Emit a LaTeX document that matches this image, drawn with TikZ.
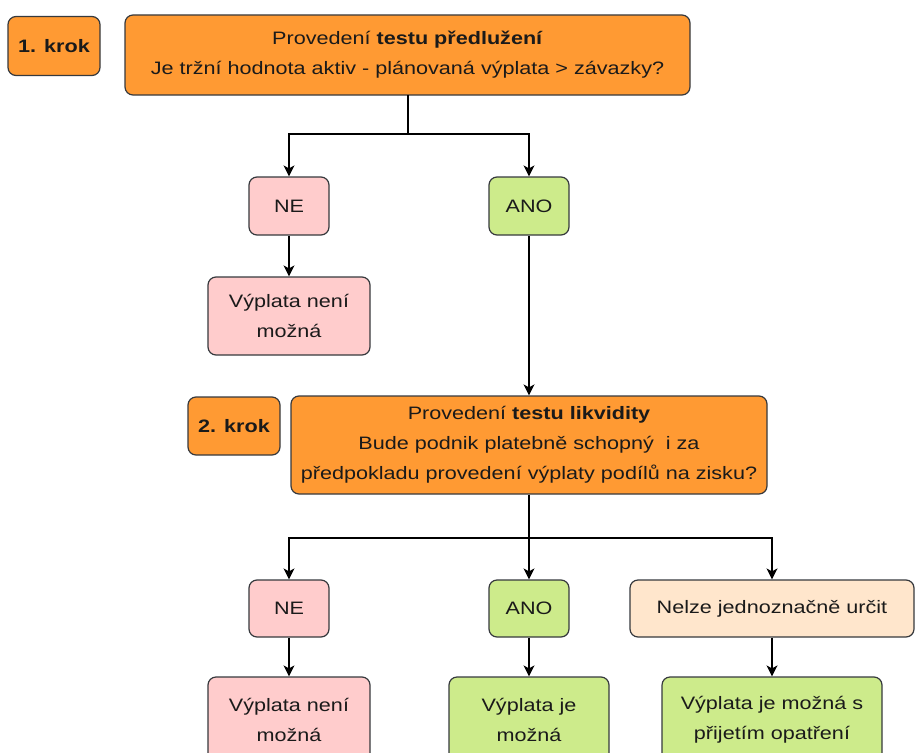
\documentclass[tikz,border=0pt]{standalone}
\usepackage{fontspec}
\setmainfont{Liberation Sans}[FakeStretch=1.2]
\usetikzlibrary{arrows.meta}
\definecolor{orangefill}{HTML}{FF9A33}
\definecolor{pinkfill}{HTML}{FFCCCC}
\definecolor{greenfill}{HTML}{CDEB8B}
\definecolor{peachfill}{HTML}{FFE6CC}
\definecolor{edgegray}{HTML}{36393D}
\definecolor{txt}{HTML}{1A1A1A}
\tikzset{
  box/.style={draw=edgegray, line width=1.2pt, rounded corners=8pt, align=center,
    inner sep=2pt, text=txt, font=\fontsize{18}{30}\selectfont},
  orangebox/.style={box, fill=orangefill},
  pinkbox/.style={box, fill=pinkfill},
  greenbox/.style={box, fill=greenfill},
  peachbox/.style={box, fill=peachfill},
  conn/.style={draw=black, line width=1.3pt, -{Stealth[length=11pt,width=11pt,inset=3pt]}},
  plain/.style={draw=black, line width=1.3pt},
}
\begin{document}
\begin{tikzpicture}[x=1pt,y=-1pt]
\useasboundingbox (0,0) rectangle (915,752);
\clip (0,0) rectangle (915,752);
% step labels
\node[orangebox, minimum width=92pt, minimum height=59pt] (k1) at (54,46) {\textbf{1. krok}};
\node[orangebox, minimum width=92pt, minimum height=58pt] (k2) at (234,426) {\textbf{2. krok}};
% main boxes
\node[orangebox, minimum width=565pt, minimum height=80pt] (m1) at (407.5,55)
  {\raisebox{-3pt}{Provedení \textbf{testu předlužení}}\\\raisebox{-3pt}{Je tržní hodnota aktiv - plánovaná výplata > závazky?}};
\node[orangebox, minimum width=476pt, minimum height=98pt] (m2) at (529,445)
  {Provedení \textbf{testu likvidity}\\Bude podnik platebně schopný\ \ i za\\předpokladu provedení výplaty podílů na zisku?};
% first level
\node[pinkbox, minimum width=80pt, minimum height=58pt] (ne1) at (289,206) {NE};
\node[greenbox, minimum width=80pt, minimum height=58pt] (ano1) at (529,206) {ANO};
\node[pinkbox, minimum width=162pt, minimum height=78pt] (o1) at (289,316) {Výplata není\\možná};
% second level
\node[pinkbox, minimum width=80pt, minimum height=57pt] (ne2) at (289,608.5) {NE};
\node[greenbox, minimum width=80pt, minimum height=57pt] (ano2) at (529,608.5) {ANO};
\node[peachbox, minimum width=284pt, minimum height=57pt] (nz) at (772,608.5) {Nelze jednoznačně určit};
\node[pinkbox, minimum width=162pt, minimum height=86pt] (o2a) at (289,720) {Výplata není\\možná};
\node[greenbox, minimum width=160pt, minimum height=86pt] (o2b) at (529,720) {Výplata je\\možná};
\node[greenbox, minimum width=220pt, minimum height=86pt] (o2c) at (772,720) {Výplata je možná s\\přijetím opatření};
% connectors
\coordinate (t1) at (408,95);
\coordinate (j1) at (408,134);
\draw[plain] (t1) -- (j1);
\draw[conn] (j1) -| (ne1.north);
\draw[conn] (j1) -| (ano1.north);
\draw[conn] (ne1.south) -- (o1.north);
\draw[conn] (ano1.south) -- (m2.north);
\coordinate (j2) at (m2.south |- 0,538);
\draw[plain] (m2.south) -- (j2);
\draw[conn] (j2) -| (ne2.north);
\draw[conn] (j2) -- (ano2.north);
\draw[conn] (j2) -| (nz.north);
\draw[conn] (ne2.south) -- (o2a.north);
\draw[conn] (ano2.south) -- (o2b.north);
\draw[conn] (nz.south) -- (o2c.north);
\end{tikzpicture}
\end{document}
